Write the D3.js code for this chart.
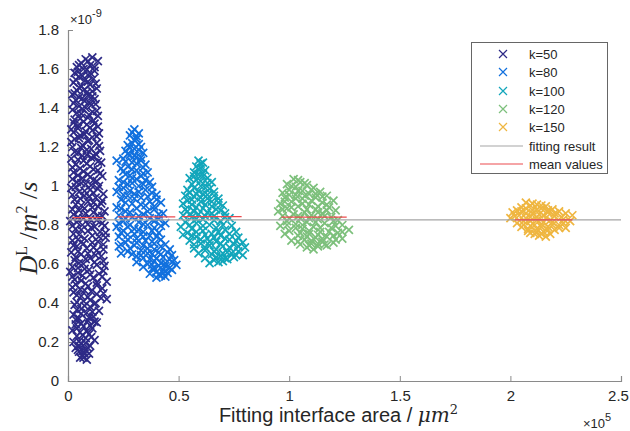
<!DOCTYPE html>
<html>
<head>
<meta charset="utf-8">
<script src="https://cdn.jsdelivr.net/npm/d3@7"></script>
<style>
  body { margin: 0; background: #fff; }
  svg text { font-family: "Liberation Sans", Arial, sans-serif; fill: #262626; }
</style>
</head>
<body>
<div id="chart"></div>
<script>
// x values in units of 1e5 um^2, y values in units of 1e-9 m^2/s
var seriesNames = ["k=50", "k=80", "k=100", "k=120", "k=150"];
var seriesColors = ["#2d2a87", "#1170de", "#12a6bb", "#7dc07c", "#efb640"];

var k50 = [
    [0.11,1.66],[0.135,1.64],[0.06,1.63],[0.08,1.65],[0.04,1.61],[0.10,1.62],[0.07,1.60],[0.12,1.59],[0.03,1.58],[0.09,1.57],
    [0.05,1.56],[0.115,1.55],[0.075,1.54],[0.025,1.53],[0.10,1.52],[0.06,1.51],[0.13,1.50],[0.04,1.49],[0.085,1.48],
    [0.02,1.47],[0.11,1.46],[0.065,1.45],[0.035,1.44],[0.095,1.43],[0.125,1.42],[0.05,1.41],[0.08,1.40],[0.02,1.39],[0.11,1.38],
    [0.06,1.37],[0.135,1.36],[0.09,1.35],[0.03,1.34],[0.07,1.33],[0.12,1.32],[0.045,1.31],[0.10,1.30],
    [0.015,1.29],[0.08,1.28],[0.14,1.27],[0.055,1.26],[0.11,1.25],[0.03,1.24],[0.09,1.23],[0.13,1.22],[0.065,1.21],[0.02,1.20],
    [0.105,1.19],[0.145,1.18],[0.045,1.17],[0.085,1.16],[0.12,1.15],[0.015,1.14],[0.07,1.13],[0.15,1.12],[0.035,1.11],[0.10,1.10],
    [0.055,1.09],[0.135,1.08],[0.025,1.07],[0.09,1.06],[0.155,1.05],[0.065,1.04],[0.115,1.03],[0.04,1.02],[0.08,1.01],[0.14,1.00],
    [0.015,0.99],[0.10,0.98],[0.05,0.97],[0.16,0.96],[0.075,0.95],[0.125,0.94],[0.03,0.93],[0.09,0.92],[0.15,0.91],[0.06,0.90],
    [0.11,0.89],[0.02,0.88],[0.165,0.87],[0.08,0.86],[0.135,0.85],[0.045,0.84],[0.10,0.83],[0.01,0.82],[0.155,0.81],[0.065,0.80],
    [0.12,0.79],[0.035,0.78],[0.09,0.77],[0.17,0.76],[0.05,0.75],[0.14,0.74],[0.075,0.73],[0.02,0.72],[0.11,0.71],[0.16,0.70],
    [0.04,0.69],[0.085,0.68],[0.13,0.67],[0.015,0.66],[0.06,0.65],[0.15,0.64],[0.10,0.63],[0.03,0.62],[0.12,0.61],[0.07,0.60],
    [0.165,0.59],[0.045,0.58],[0.095,0.57],[0.01,0.56],[0.14,0.55],[0.065,0.54],[0.115,0.53],[0.03,0.52],[0.175,0.51],[0.08,0.50],
    [0.13,0.49],[0.02,0.48],[0.055,0.47],[0.105,0.46],[0.16,0.45],[0.04,0.44],[0.09,0.43],[0.175,0.42],[0.07,0.41],[0.125,0.40],
    [0.03,0.39],[0.10,0.38],[0.06,0.37],[0.14,0.36],[0.085,0.35],[0.025,0.34],[0.115,0.33],[0.05,0.32],[0.09,0.31],[0.13,0.30],
    [0.035,0.29],[0.07,0.28],[0.11,0.27],[0.02,0.26],[0.055,0.25],[0.095,0.24],[0.04,0.23],[0.08,0.22],[0.12,0.21],[0.025,0.20],
    [0.06,0.19],[0.10,0.18],[0.035,0.17],[0.08,0.16],[0.05,0.15],[0.095,0.14],[0.065,0.13],[0.085,0.11],[0.07,0.12],[0.045,0.16],
    [0.09,1.64],[0.05,1.62],[0.12,1.61],[0.085,1.595],[0.045,1.585],[0.105,1.575],[0.065,1.565],[0.035,1.545],[0.09,1.535],
    [0.125,1.525],[0.05,1.505],[0.075,1.495],[0.11,1.485],
    [0.03,1.475],[0.09,1.465],[0.05,1.455],[0.12,1.445],[0.075,1.435],[0.025,1.425],[0.105,1.415],[0.065,1.395],[0.13,1.385],
    [0.04,1.375],[0.095,1.365],[0.055,1.345],[0.115,1.335],[0.025,1.325],[0.085,1.315],[0.135,1.305],
    [0.045,1.295],[0.11,1.285],[0.025,1.275],[0.075,1.265],[0.13,1.255],[0.05,1.245],[0.095,1.235],[0.015,1.225],[0.14,1.205],
    [0.06,1.195],[0.085,1.185],[0.03,1.175],[0.125,1.165],[0.065,1.155],[0.105,1.145],[0.045,1.135],[0.135,1.125],[0.085,1.115],
    [0.02,1.095],[0.115,1.085],[0.07,1.075],[0.145,1.065],[0.045,1.055],[0.10,1.045],[0.02,1.035],[0.13,1.025],[0.06,1.015],[0.105,1.005],
    [0.035,0.995],[0.135,0.985],[0.075,0.975],[0.115,0.965],[0.02,0.955],[0.095,0.945],[0.055,0.935],[0.155,0.925],[0.115,0.915],
    [0.035,0.905],[0.135,0.895],[0.075,0.885],[0.05,0.875],[0.115,0.865],[0.025,0.855],[0.155,0.845],[0.07,0.835],[0.13,0.825],
    [0.04,0.815],[0.09,0.805],[0.165,0.795],[0.02,0.795],[0.105,0.785],[0.06,0.775],[0.145,0.765],[0.025,0.755],[0.11,0.745],
    [0.17,0.735],[0.045,0.725],[0.135,0.715],[0.07,0.705],[0.025,0.695],[0.115,0.685],[0.16,0.675],[0.045,0.665],[0.09,0.655],
    [0.125,0.645],[0.035,0.635],[0.08,0.625],[0.16,0.615],[0.05,0.605],
    [0.13,0.595],[0.02,0.585],[0.075,0.575],[0.16,0.565],[0.045,0.555],[0.10,0.545],[0.155,0.535],[0.02,0.535],[0.06,0.515],
    [0.13,0.505],[0.035,0.495],[0.09,0.485],[0.155,0.475],[0.075,0.465],[0.025,0.455],[0.13,0.445],[0.06,0.435],[0.15,0.425],
    [0.10,0.415],[0.04,0.405],
    [0.12,0.395],[0.075,0.385],[0.04,0.365],[0.11,0.355],[0.06,0.345],[0.095,0.325],[0.035,0.315],[0.12,0.305],[0.06,0.295],
    [0.10,0.285],[0.04,0.27],[0.085,0.255],[0.065,0.235],[0.105,0.225],[0.05,0.205],
    [0.08,0.195],[0.05,0.18],[0.09,0.17],[0.065,0.155],[0.075,0.14],[0.055,0.12]
];

var k80 = [
    [0.30,1.29],[0.32,1.27],[0.28,1.26],[0.31,1.24],[0.29,1.22],[0.27,1.21],[0.33,1.20],[0.30,1.19],
    [0.26,1.18],[0.34,1.17],[0.28,1.16],[0.31,1.15],[0.22,1.13],[0.25,1.14],[0.33,1.13],[0.29,1.12],[0.35,1.11],[0.27,1.10],
    [0.24,1.09],[0.31,1.08],[0.36,1.07],[0.26,1.06],[0.33,1.05],[0.29,1.04],[0.23,1.03],[0.37,1.02],[0.27,1.01],[0.32,1.00],[0.38,0.995],
    [0.25,0.99],[0.35,0.98],[0.22,0.97],[0.30,0.96],[0.40,0.955],[0.27,0.95],[0.33,0.94],[0.24,0.93],[0.37,0.92],[0.42,0.915],[0.29,0.91],[0.35,0.90],
    [0.22,0.89],[0.31,0.885],[0.39,0.88],[0.26,0.87],[0.43,0.86],[0.34,0.855],[0.23,0.85],[0.29,0.84],[0.37,0.835],[0.41,0.83],
    [0.25,0.82],[0.32,0.815],[0.44,0.81],[0.28,0.80],[0.36,0.80],
    [0.22,0.79],[0.39,0.785],[0.30,0.78],[0.25,0.77],[0.34,0.765],[0.41,0.76],[0.27,0.75],[0.37,0.745],[0.23,0.74],[0.31,0.73],[0.42,0.725],[0.35,0.72],
    [0.26,0.71],[0.39,0.705],[0.44,0.70],[0.30,0.695],[0.23,0.69],[0.36,0.68],[0.46,0.675],[0.33,0.67],[0.27,0.665],[0.41,0.66],
    [0.24,0.655],[0.38,0.65],[0.47,0.645],[0.31,0.64],[0.43,0.635],
    [0.34,0.63],[0.48,0.62],[0.39,0.615],[0.31,0.61],[0.44,0.605],[0.36,0.60],[0.49,0.595],[0.41,0.59],[0.34,0.585],[0.46,0.58],
    [0.38,0.575],[0.43,0.57],[0.40,0.56],[0.45,0.555],[0.37,0.55],[0.42,0.54],[0.40,0.53],[0.44,0.535],
    [0.29,1.275],[0.31,1.255],[0.30,1.235],[0.32,1.215],[0.28,1.195],[0.32,1.185],[0.27,1.165],[0.30,1.155],[0.33,1.145],
    [0.26,1.125],[0.31,1.115],[0.34,1.095],[0.29,1.085],[0.25,1.075],[0.34,1.065],[0.28,1.055],[0.31,1.035],[0.35,1.03],
    [0.25,1.02],[0.29,1.015],[0.34,1.01],[0.23,0.995],[0.28,0.975],[0.32,0.97],[0.38,0.965],[0.25,0.955],[0.36,0.945],
    [0.30,0.935],[0.40,0.93],[0.26,0.915],[0.33,0.905],[0.39,0.895],[0.24,0.885],[0.28,0.865],[0.36,0.87],[0.41,0.855],
    [0.32,0.845],[0.26,0.835],[0.39,0.82],[0.23,0.81],[0.34,0.805],[0.42,0.795],[0.27,0.79],[0.32,0.775],[0.38,0.77],
    [0.24,0.76],[0.30,0.755],[0.40,0.74],[0.34,0.74],[0.27,0.725],[0.38,0.715],[0.31,0.71],[0.24,0.70],[0.42,0.69],
    [0.34,0.695],[0.28,0.68],[0.39,0.675],[0.45,0.66],[0.36,0.655],[0.29,0.65],[0.42,0.65],[0.33,0.645],[0.40,0.63],
    [0.46,0.625],[0.37,0.625],[0.42,0.605],[0.47,0.61],[0.38,0.595],[0.44,0.59],[0.39,0.58],[0.47,0.57],[0.41,0.545],[0.43,0.555]
];

var k100 = [
    [0.59,1.13],[0.61,1.12],[0.58,1.10],[0.60,1.09],[0.62,1.08],[0.57,1.07],[0.59,1.06],[0.61,1.05],
    [0.55,1.04],[0.63,1.04],[0.58,1.03],[0.65,1.02],[0.56,1.01],[0.60,1.00],[0.62,0.99],[0.54,0.98],[0.66,0.97],[0.58,0.96],[0.63,0.955],
    [0.53,0.95],[0.60,0.94],[0.68,0.935],[0.56,0.93],[0.65,0.92],[0.52,0.91],[0.62,0.905],[0.70,0.90],[0.58,0.89],[0.67,0.88],
    [0.54,0.87],[0.63,0.865],[0.71,0.86],[0.59,0.855],
    [0.52,0.85],[0.66,0.845],[0.56,0.84],[0.73,0.835],[0.61,0.83],[0.69,0.82],[0.53,0.815],[0.58,0.81],[0.64,0.80],[0.74,0.795],
    [0.51,0.79],[0.67,0.785],[0.56,0.78],[0.71,0.775],[0.61,0.77],[0.76,0.765],[0.54,0.76],[0.65,0.755],
    [0.52,0.75],[0.69,0.745],[0.58,0.74],[0.77,0.735],[0.63,0.73],[0.73,0.725],[0.55,0.72],[0.67,0.715],[0.79,0.71],[0.60,0.705],
    [0.75,0.70],[0.64,0.695],[0.70,0.69],[0.80,0.685],[0.57,0.68],
    [0.67,0.675],[0.62,0.67],[0.77,0.665],[0.72,0.66],[0.59,0.655],[0.65,0.65],[0.79,0.645],[0.69,0.64],[0.75,0.635],[0.62,0.63],
    [0.72,0.625],[0.66,0.62],[0.68,0.61],[0.64,0.605],[0.70,0.615],
    [0.60,1.115],[0.59,1.085],[0.61,1.065],[0.57,1.05],[0.60,1.025],[0.63,1.015],[0.57,0.99],[0.64,0.985],[0.59,0.975],
    [0.55,0.965],[0.61,0.96],[0.66,0.95],[0.57,0.945],[0.63,0.935],[0.54,0.925],[0.60,0.92],[0.68,0.915],[0.56,0.905],
    [0.65,0.895],[0.61,0.885],[0.53,0.88],[0.69,0.875],[0.57,0.87],[0.65,0.86],[0.55,0.855],[0.62,0.845],[0.71,0.84],
    [0.58,0.83],[0.66,0.825],[0.55,0.80],[0.61,0.795],[0.70,0.80],[0.58,0.765],[0.68,0.765],[0.73,0.755],[0.62,0.75],
    [0.56,0.745],[0.66,0.735],[0.71,0.73],[0.60,0.725],[0.76,0.72],[0.64,0.715],[0.69,0.705],[0.57,0.70],[0.73,0.685],
    [0.62,0.685],[0.77,0.69],[0.66,0.665],[0.74,0.655],[0.70,0.655],[0.76,0.645],[0.67,0.635],[0.71,0.63]
];

var k120 = [
    [1.02,1.035],[1.05,1.02],[0.99,1.01],[1.08,1.005],[1.03,0.995],[1.11,0.99],[1.00,0.98],[1.06,0.975],[1.14,0.97],
    [0.97,0.965],[1.09,0.96],[1.03,0.955],[1.17,0.95],[0.98,0.94],[1.12,0.94],[1.06,0.935],[1.20,0.925],[1.01,0.92],[1.15,0.915],
    [0.96,0.91],[1.09,0.905],
    [1.04,0.895],[1.18,0.89],[0.99,0.885],[1.12,0.88],[1.21,0.875],[0.95,0.87],[1.07,0.865],[1.15,0.86],[1.02,0.855],[1.10,0.85],
    [0.97,0.845],[1.19,0.84],[1.05,0.835],[1.13,0.83],[1.22,0.825],
    [0.99,0.82],[1.08,0.815],[1.16,0.81],[1.03,0.805],[1.24,0.80],[0.96,0.795],[1.11,0.79],[1.19,0.785],[1.06,0.78],[1.27,0.775],
    [1.00,0.77],[1.14,0.765],[1.22,0.76],[1.09,0.755],[0.98,0.755],
    [1.04,0.745],[1.17,0.74],[1.12,0.735],[1.24,0.73],[1.07,0.725],[1.01,0.72],[1.15,0.715],[1.20,0.71],[1.10,0.705],[1.05,0.70],
    [1.13,0.69],[1.08,0.685],[1.11,0.675],[1.17,0.695],
    [1.04,1.03],[1.07,1.015],[1.01,1.00],[1.10,0.98],[1.04,0.975],[1.12,0.96],[1.00,0.955],[1.07,0.95],[1.15,0.945],
    [1.03,0.935],[1.10,0.925],[0.98,0.92],[1.17,0.905],[1.06,0.91],[1.13,0.895],[1.01,0.89],[1.08,0.88],[1.17,0.875],
    [0.97,0.88],[1.13,0.865],[1.04,0.845],[1.16,0.845],[1.09,0.835],[1.00,0.835],[1.20,0.82],[1.12,0.815],[1.06,0.80],
    [0.99,0.80],[1.21,0.795],[1.14,0.785],[1.03,0.785],[1.09,0.77],[1.18,0.765],[1.24,0.765],[1.05,0.76],[1.13,0.75],
    [1.20,0.745],[1.08,0.74],[1.15,0.73],[1.21,0.725],[1.10,0.72],[1.04,0.715],[1.13,0.705],[1.16,0.70],[1.09,0.695]
];

var k150 = [
    [2.07,0.915],[2.12,0.905],[2.09,0.90],[2.16,0.895],[2.05,0.89],[2.14,0.885],[2.19,0.88],[2.03,0.875],[2.10,0.875],[2.22,0.87],
    [2.01,0.865],[2.17,0.865],[2.07,0.86],[2.25,0.86],[2.13,0.855],[2.28,0.85],[2.04,0.85],[2.20,0.845],[2.09,0.84],[2.16,0.835],
    [2.00,0.835],[2.24,0.83],[2.12,0.825],[2.06,0.82],[2.27,0.82],[2.19,0.815],[2.03,0.81],[2.14,0.805],[2.22,0.80],[2.09,0.795],
    [2.17,0.79],[2.05,0.79],[2.25,0.785],[2.12,0.78],[2.20,0.775],[2.08,0.77],[2.15,0.765],[2.11,0.755],[2.18,0.755],[2.13,0.745],
    [2.09,0.76],[2.16,0.74],
    [2.10,0.91],[2.14,0.90],[2.07,0.885],[2.12,0.88],[2.17,0.875],[2.05,0.87],[2.20,0.86],[2.10,0.86],[2.15,0.85],[2.02,0.845],
    [2.23,0.84],[2.07,0.835],[2.12,0.84],[2.18,0.825],[2.09,0.82],[2.15,0.815],[2.24,0.81],[2.06,0.80],[2.11,0.80],[2.19,0.80],
    [2.14,0.79],[2.22,0.785],[2.08,0.78],[2.17,0.775],[2.12,0.765],[2.14,0.755]
];

// mean value segments (red) per series
var meanStart = [0.02, 0.225, 0.515, 0.965, 2.02];
var meanEnd = [0.16, 0.485, 0.785, 1.26, 2.28];
var meanValue = [0.838, 0.842, 0.843, 0.840, 0.826];

// fitting result (gray)
var fitValue = 0.826;

var xTicks = [0, 0.5, 1, 1.5, 2, 2.5];
var yTicks = [0, 0.2, 0.4, 0.6, 0.8, 1, 1.2, 1.4, 1.6, 1.8];

(function IFEE() {
    'use strict';
    var w = 630;
    var h = 431;
    var left = 68, right = 621, top = 30, bottom = 381;

    var allSeries = [k50, k80, k100, k120, k150];

    var x = d3.scaleLinear().domain([0, 2.5]).range([left, right]);
    var y = d3.scaleLinear().domain([0, 1.8]).range([bottom, top]);

    var svg = d3.select("#chart")
        .append("svg")
        .attr("width", w)
        .attr("height", h);

    // axes, matlab style ticks pointing inward
    var xAxis = d3.axisBottom(x).tickValues(xTicks).tickSize(-5).tickPadding(9)
        .tickFormat(function (d) { return d3.format("")(d); });
    var yAxis = d3.axisLeft(y).tickValues(yTicks).tickSize(-5).tickPadding(9)
        .tickFormat(function (d) { return d3.format("")(+d.toFixed(1)); });

    var gx = svg.append("g").attr("transform", "translate(0," + bottom + ")").call(xAxis);
    var gy = svg.append("g").attr("transform", "translate(" + left + ",0)").call(yAxis);
    [gx, gy].forEach(function (g) {
        g.select(".domain").attr("stroke", "#8a8a8a").attr("stroke-width", 1.2);
        g.selectAll(".tick line").attr("stroke", "#8a8a8a");
        g.selectAll("text").attr("font-size", "15px")
            .attr("font-family", "Liberation Sans, Arial, sans-serif").attr("fill", "#262626");
    });
    // keep the last label inside the picture
    gx.selectAll(".tick text").filter(function (d) { return d === 2.5; }).attr("dx", "-3");

    // scatter crosses
    var cross = "M-4,-4L4,4M-4,4L4,-4";
    allSeries.forEach(function (pts, i) {
        svg.append("g")
            .selectAll("path")
            .data(pts)
            .enter()
            .append("path")
            .attr("d", cross)
            .attr("transform", function (d) { return "translate(" + x(d[0]) + "," + y(d[1]) + ")"; })
            .attr("stroke", seriesColors[i])
            .attr("stroke-width", 1.7)
            .attr("fill", "none");
    });

    // fitting result line
    svg.append("line")
        .attr("x1", x(0)).attr("x2", x(2.5))
        .attr("y1", y(fitValue)).attr("y2", y(fitValue))
        .attr("stroke", "#a5a5a5").attr("stroke-width", 1.2);

    // mean values
    svg.append("g").selectAll("line")
        .data(meanValue)
        .enter()
        .append("line")
        .attr("x1", function (d, i) { return x(meanStart[i]); })
        .attr("x2", function (d, i) { return x(meanEnd[i]); })
        .attr("y1", function (d) { return y(d); })
        .attr("y2", function (d) { return y(d); })
        .attr("stroke", "#ec4a4e").attr("stroke-width", 1.2);

    // exponent labels
    var ex = svg.append("text").attr("x", 70).attr("y", 24).attr("font-size", "13px");
    ex.append("tspan").text("\u00d710");
    ex.append("tspan").attr("dy", -7).attr("font-size", "11px").text("-9");

    var ex2 = svg.append("text").attr("x", 583).attr("y", 428).attr("font-size", "13px");
    ex2.append("tspan").text("\u00d710");
    ex2.append("tspan").attr("dy", -7).attr("font-size", "11px").text("5");

    // x label
    var xl = svg.append("text")
        .attr("x", (left + right) / 2 - 6).attr("y", 422)
        .attr("text-anchor", "middle")
        .attr("font-size", "20px");
    xl.append("tspan").text("Fitting interface area / ");
    xl.append("tspan").attr("font-family", "DejaVu Serif, serif").attr("font-style", "italic").text("\u03bcm");
    xl.append("tspan").attr("dy", -8).attr("font-size", "13px")
        .attr("font-family", "DejaVu Serif, serif").text("2");

    // y label
    var yl = svg.append("text")
        .attr("transform", "translate(37,228) rotate(-90)")
        .attr("text-anchor", "middle")
        .style("font-family", "'Liberation Serif', 'Times New Roman', serif")
        .attr("font-size", "26px");
    yl.append("tspan").attr("font-style", "italic").text("D");
    yl.append("tspan").attr("dy", -10).attr("font-size", "16px").text("L");
    yl.append("tspan").attr("dy", 10).text(" /");
    yl.append("tspan").attr("font-style", "italic").text("m");
    yl.append("tspan").attr("dy", -10).attr("font-size", "16px").text("2");
    yl.append("tspan").attr("dy", 10).text(" /");
    yl.append("tspan").attr("font-style", "italic").text("s");

    // legend
    var lg = svg.append("g");
    lg.append("rect")
        .attr("x", 471.5).attr("y", 42.5).attr("width", 136).attr("height", 131)
        .attr("fill", "#fff").attr("stroke", "#666").attr("stroke-width", 1);
    var rowY = [54, 72, 91, 109, 127];
    seriesNames.forEach(function (name, i) {
        lg.append("path").attr("d", cross)
            .attr("transform", "translate(503," + rowY[i] + ")")
            .attr("stroke", seriesColors[i]).attr("stroke-width", 1.2).attr("fill", "none");
        lg.append("text").attr("x", 529).attr("y", rowY[i] + 5)
            .attr("font-size", "13px").text(name);
    });
    lg.append("line").attr("x1", 480).attr("x2", 523).attr("y1", 146).attr("y2", 146)
        .attr("stroke", "#a5a5a5").attr("stroke-width", 1.2);
    lg.append("text").attr("x", 529).attr("y", 151).attr("font-size", "13px").text("fitting result");
    lg.append("line").attr("x1", 480).attr("x2", 523).attr("y1", 164).attr("y2", 164)
        .attr("stroke", "#ec4a4e").attr("stroke-width", 1.2);
    lg.append("text").attr("x", 529).attr("y", 169).attr("font-size", "13px").text("mean values");
}());
</script>
</body>
</html>
